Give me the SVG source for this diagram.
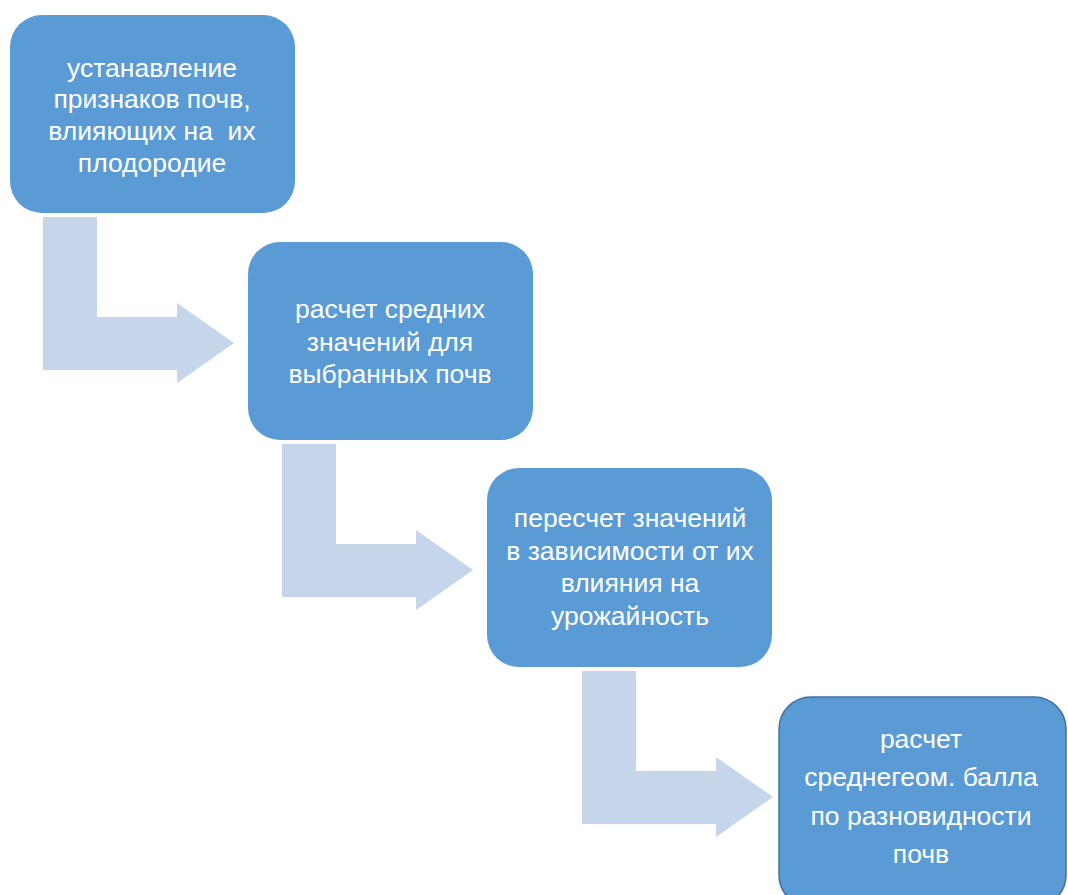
<svg xmlns="http://www.w3.org/2000/svg" width="1068" height="895" viewBox="0 0 1068 895">
<style>
.box{fill:#5B9BD5;}
.box4{fill:#5B9BD5;stroke:#41719C;stroke-width:1.5;}
.arr{fill:#C5D5EA;}
text{font-family:"Liberation Sans",Arial,sans-serif;font-size:26.5px;fill:#FFFFFF;text-anchor:middle;white-space:pre;}
</style>
<rect width="1068" height="895" fill="#FFFFFF"/>
<g id="connectors">
<polygon class="arr" points="43,217 97,217 97,317 177,317 177,303 234,343 177,383 177,370 43,370"/>
<polygon class="arr" points="282,444 336,444 336,544 416,544 416,530 473,570 416,610 416,597 282,597"/>
<polygon class="arr" points="582,671 636,671 636,771 716,771 716,757 773,797 716,837 716,824 582,824"/>
</g>
<g id="node1">
<rect class="box" x="10" y="15" width="285" height="198" rx="32" ry="32"/>
<text x="152" y="77">устанавление</text>
<text x="152" y="108">признаков почв,</text>
<text x="152" y="140" xml:space="preserve">влияющих на  их</text>
<text x="152" y="172">плодородие</text>
</g>
<g id="node2">
<rect class="box" x="248" y="242" width="285" height="198" rx="32" ry="32"/>
<text x="390" y="318">расчет средних</text>
<text x="390" y="351">значений для</text>
<text x="390" y="383">выбранных почв</text>
</g>
<g id="node3">
<rect class="box" x="487" y="468" width="285" height="199" rx="32" ry="32"/>
<text x="630" y="527">пересчет значений</text>
<text x="630" y="560">в зависимости от их</text>
<text x="630" y="592">влияния на</text>
<text x="630" y="625">урожайность</text>
</g>
<g id="node4">
<rect class="box4" x="779" y="697" width="287" height="210" rx="32" ry="32"/>
<text x="921" y="748">расчет</text>
<text x="921" y="786">среднегеом. балла</text>
<text x="921" y="825">по разновидности</text>
<text x="921" y="863">почв</text>
</g>
</svg>
